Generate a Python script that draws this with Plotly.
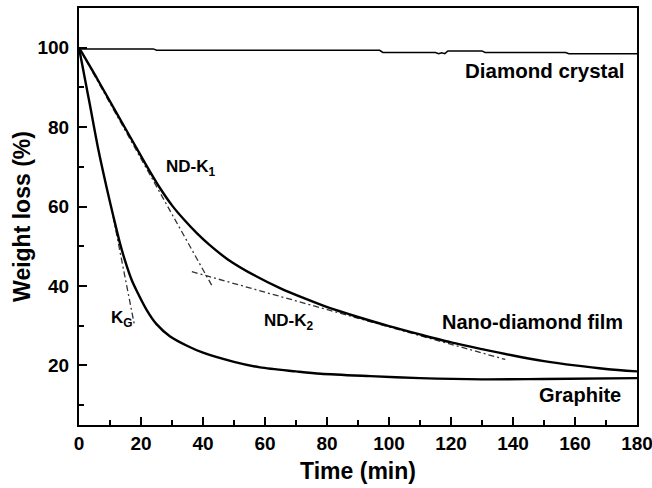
import plotly.graph_objects as go

# Diamond crystal
diamond_t = [0, 1, 24, 25, 97, 98, 115, 116, 117, 118, 119, 130, 131, 157, 158, 180]
diamond_y = [100, 99.7, 99.7, 99.35, 99.35, 98.8, 98.8, 98.5, 98.75, 98.5, 99.2, 99.2, 98.8, 98.8, 98.5, 98.5]

# Nano-diamond film
nano_t = [0, 6, 12, 18, 22, 26, 30, 34, 38, 42, 48, 57, 65, 73, 81, 90, 100, 110, 120, 130, 140, 150, 160, 170, 180]
nano_y = [100, 92.0, 83.7, 75.5, 70.0, 64.8, 60.3, 56.6, 53.3, 50.4, 46.7, 42.5, 39.4, 36.8, 34.4, 32.2, 29.9, 27.8, 25.8, 24.1, 22.5, 21.1, 20.0, 19.1, 18.5]

# Graphite
graph_t = [0, 2, 3.5, 6.2, 9, 11.1, 13.2, 15, 17, 18.6, 21.8, 25, 29.4, 35, 40, 50, 58.4, 70, 78, 94, 110, 130, 150, 180]
graph_y = [100, 91.8, 85.7, 74.5, 64.5, 57.5, 50.8, 46.0, 41.5, 38.8, 34.0, 30.4, 27.3, 24.9, 23.2, 20.9, 19.5, 18.5, 17.9, 17.3, 16.8, 16.5, 16.6, 16.8]

# Tangent lines
kg_t = [11, 17.8]
kg_y = [57.5, 30.5]
k1_t = [0, 42.8]
k1_y = [100, 40.2]
k2_t = [36.4, 137.5]
k2_y = [43.6, 21.5]

x_ticks = [0, 20, 40, 60, 80, 100, 120, 140, 160, 180]
y_ticks = [20, 40, 60, 80, 100]

FONT = "Liberation Sans"
DASH = "6px,3px,2px,3px"

fig = go.Figure()
for t, y in [(kg_t, kg_y), (k1_t, k1_y), (k2_t, k2_y)]:
    fig.add_trace(go.Scatter(x=t, y=y, mode="lines",
                             line=dict(color="#333333", width=1.3, dash=DASH),
                             showlegend=False, hoverinfo="skip"))
fig.add_trace(go.Scatter(x=diamond_t, y=diamond_y, mode="lines",
                         line=dict(color="black", width=1.5), showlegend=False))
fig.add_trace(go.Scatter(x=nano_t, y=nano_y, mode="lines",
                         line=dict(color="black", width=2.4, shape="spline", smoothing=0.8),
                         showlegend=False))
fig.add_trace(go.Scatter(x=graph_t, y=graph_y, mode="lines",
                         line=dict(color="black", width=2.4, shape="spline", smoothing=0.8),
                         showlegend=False))

axis_common = dict(showline=True, linecolor="black", linewidth=2, mirror=True,
                   showgrid=False, zeroline=False, ticks="inside", ticklen=8,
                   tickwidth=2, tickcolor="black", ticklabeloverflow="allow",
                   automargin=False,
                   tickfont=dict(family=FONT, size=19, color="black", weight="bold"))

fig.update_xaxes(range=[0, 180], tickvals=x_ticks,
                 minor=dict(ticks="inside", ticklen=5, tickwidth=2, tickcolor="black", dtick=10, tick0=0),
                 title=dict(text="Time (min)", font=dict(family=FONT, size=23, color="black", weight="bold"), standoff=10),
                 **axis_common)
fig.update_yaxes(range=[5, 110], tickvals=y_ticks, ticklabelstandoff=4,
                 minor=dict(ticks="inside", ticklen=5, tickwidth=2, tickcolor="black", dtick=10, tick0=0),
                 title=dict(text="Weight loss (%)", font=dict(family=FONT, size=23, color="black", weight="bold"), standoff=0),
                 **axis_common)

lab_font = dict(family=FONT, size=20, color="black", weight="bold")
small_font = dict(family=FONT, size=17, color="black", weight="bold")
annotations = [
    dict(x=176.8, y=94.3, text="Diamond crystal", xanchor="right", font=dict(lab_font, size=20.5)),
    dict(x=176.2, y=31.0, text="Nano-diamond film", xanchor="right", font=lab_font),
    dict(x=175.5, y=12.6, text="Graphite", xanchor="right", font=lab_font),
    dict(x=27.4, y=69.8, text="ND-K<sub>1</sub>", xanchor="left", font=small_font),
    dict(x=59.0, y=31.0, text="ND-K<sub>2</sub>", xanchor="left", font=small_font),
    dict(x=9.7, y=31.6, text="K<sub>G</sub>", xanchor="left", font=small_font),
]
for a in annotations:
    a.update(xref="x", yref="y", showarrow=False, yanchor="middle")
fig.update_layout(annotations=annotations)

fig.update_layout(width=652, height=488, margin=dict(l=79, r=15, t=8, b=63),
                  plot_bgcolor="white", paper_bgcolor="white")

fig.write_html("out.html")
